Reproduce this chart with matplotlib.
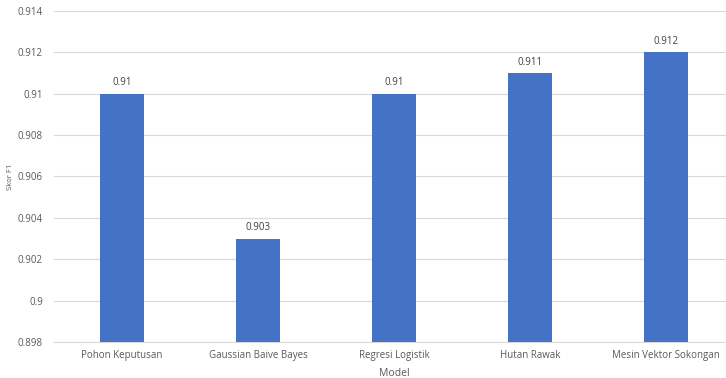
import matplotlib
matplotlib.use("Agg")
import matplotlib.pyplot as plt

models = ["Pohon Keputusan", "Gaussian Baive Bayes", "Regresi Logistik", "Hutan Rawak", "Mesin Vektor Sokongan"]
f1_scores = [0.910, 0.903, 0.910, 0.911, 0.912]
value_labels = ["0.91", "0.903", "0.91", "0.911", "0.912"]
y_ticks = [0.898, 0.9, 0.902, 0.904, 0.906, 0.908, 0.91, 0.912, 0.914]
y_tick_labels = ["0.898", "0.9", "0.902", "0.904", "0.906", "0.908", "0.91", "0.912", "0.914"]

plt.rcParams['font.family'] = ['Open Sans', 'DejaVu Sans']
fig = plt.figure(figsize=(7.26, 3.78), dpi=100)
ax = fig.add_axes([54/726, 1-342/378, 680/726, 331/378])

x = list(range(len(models)))
bars = ax.bar(x, f1_scores, width=0.32, color="#4472C4", zorder=3)
ax.set_xlim(-0.5, len(models)-0.5)
ax.set_ylim(0.898, 0.914)
ax.set_yticks(y_ticks)
ax.set_yticklabels(y_tick_labels)
ax.set_xticks(x)
ax.set_xticklabels(models)
ax.grid(axis="y", color="#D9D9D9", linewidth=0.8, zorder=0)
for s in ["top", "right", "left"]:
    ax.spines[s].set_visible(False)
ax.spines["bottom"].set_color("#D9D9D9")
ax.tick_params(axis="both", length=0, colors="#595959", labelsize=7)
ax.tick_params(axis="x", pad=6)
ax.tick_params(axis="y", pad=8)
for xi, v, lab in zip(x, f1_scores, value_labels):
    ax.annotate(lab, (xi, v), xytext=(0, 4), textcoords="offset points",
                ha="center", va="bottom", fontsize=7, color="#404040")
ax.set_xlabel("Model", fontsize=7.5, color="#595959", labelpad=5)
ax.set_ylabel("Skor F1", fontsize=5.5, color="#595959")
ax.yaxis.set_label_coords((14 - 54) / 680, 0.5)
fig.savefig("out.png", dpi=100)
